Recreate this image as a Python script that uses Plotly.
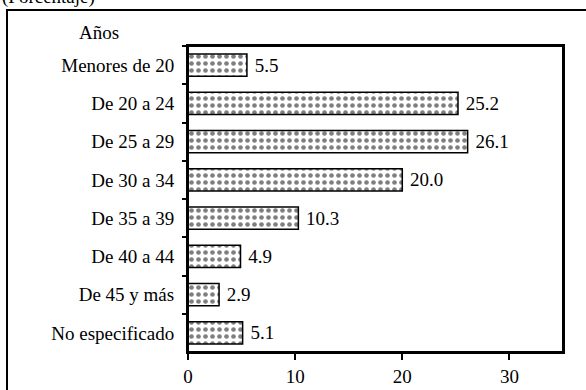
import plotly.graph_objects as go

categories = ["Menores de 20", "De 20 a 24", "De 25 a 29", "De 30 a 34",
              "De 35 a 39", "De 40 a 44", "De 45 y más", "No especificado"]
values = [5.5, 25.2, 26.1, 20.0, 10.3, 4.9, 2.9, 5.1]
value_labels = ["5.5", "25.2", "26.1", "20.0", "10.3", "4.9", "2.9", "5.1"]
x_ticks = [0, 10, 20, 30]

W, H = 586, 390
L, R, T, B = 188, 23, 46, 38
pw, ph = W - L - R, H - T - B

def px_x(x):
    return (x - L) / pw

def px_y(y):
    return 1 - (y - T) / ph

FONT = "Liberation Serif"
FS = 19

fig = go.Figure(go.Bar(
    x=values, y=categories, orientation="h",
    text=value_labels, texttemplate="\u00a0%{text}",
    textposition="outside", cliponaxis=False,
    textfont=dict(family=FONT, size=FS, color="black"),
    marker=dict(color="white", line=dict(color="black", width=1.5),
                pattern=dict(shape=".", fgcolor="black", bgcolor="white",
                             size=7, solidity=0.35)),
    width=0.58,
))

fig.update_layout(
    width=W, height=H, margin=dict(l=L, r=R, t=T, b=B),
    paper_bgcolor="white", plot_bgcolor="white",
    font=dict(family=FONT, size=FS, color="black"),
    showlegend=False,
    xaxis=dict(range=[0, 35], tickvals=x_ticks, ticks="outside", ticklen=6,
               tickwidth=1.5, tickcolor="black", showgrid=False, zeroline=False,
               showline=True, linecolor="black", linewidth=2, mirror=True,
               ticklabelstandoff=0, automargin=False, fixedrange=True),
    yaxis=dict(type="category", autorange="reversed", ticks="outside",
               tickson="boundaries", ticklen=4, tickwidth=1.5, tickcolor="black",
               showgrid=False, showline=True, linecolor="black", linewidth=2,
               mirror=True, ticklabelstandoff=8, automargin=False,
               fixedrange=True),
    bargap=0.42,
)

# plot-area frame
fig.add_shape(type="rect", xref="paper", yref="paper", x0=0, x1=1, y0=0, y1=1,
              line=dict(color="black", width=2), fillcolor="rgba(0,0,0,0)")
# outer frame
fig.add_shape(type="rect", xref="paper", yref="paper",
              x0=px_x(7), x1=px_x(620), y0=px_y(440), y1=px_y(10),
              line=dict(color="black", width=2), fillcolor="rgba(0,0,0,0)")

fig.add_annotation(text="(Porcentaje)", xref="paper", yref="paper",
                   x=px_x(0), y=px_y(10), xanchor="left", yanchor="bottom",
                   showarrow=False, font=dict(family=FONT, size=FS, color="black"))
fig.add_annotation(text="Años", xref="paper", yref="paper",
                   x=px_x(99), y=px_y(33), xanchor="center", yanchor="middle",
                   showarrow=False, font=dict(family=FONT, size=FS, color="black"))

fig.write_html("out.html", config={"displayModeBar": False},
               post_script="document.body.style.margin='0';")
